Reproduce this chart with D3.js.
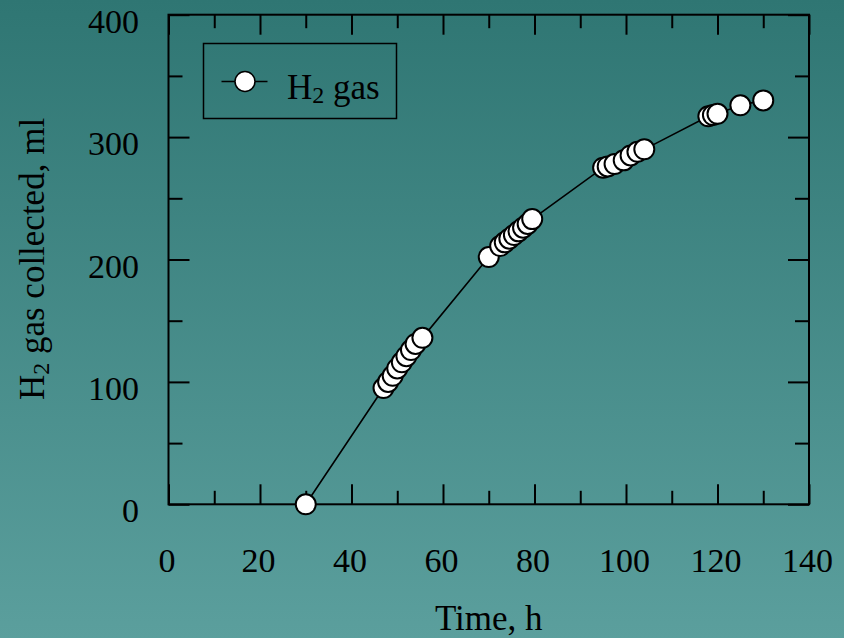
<!DOCTYPE html>
<html>
<head>
<meta charset="utf-8">
<script src="https://cdn.jsdelivr.net/npm/d3@7"></script>
<style>
  html, body { margin: 0; padding: 0; background: #45898a; }
  svg { display: block; }
</style>
</head>
<body>
<div id="chart"></div>
<script>
// data
var timeH = [30, 47, 48, 49, 50, 51, 52, 53, 54, 55.5,
             70, 72.5, 73.5, 74.5, 75.5, 76.5, 77.5, 78.5, 79.5,
             95, 96, 97.5, 99.5, 101, 102.5, 104,
             118, 119, 120, 125, 130];
var gasMl = [0, 95, 100, 105, 111, 116, 121, 126, 131, 136,
             202, 211, 214, 217, 220, 223, 226, 229, 233,
             275, 276, 278, 281, 285, 288, 290,
             317, 318, 319, 326, 330];
var xTicks = [0, 20, 40, 60, 80, 100, 120, 140];
var yTicks = [0, 100, 200, 300, 400];
var xMinor = [10, 30, 50, 70, 90, 110, 130];
var yMinor = [50, 150, 250, 350];

function main()
{
    var svgWidth = 844;
    var svgHeight = 638;
    var left = 168.5, top = 14.7, right = 809, bottom = 504.3;

    var svg = d3.select("#chart").append("svg")
        .attr("width", svgWidth)
        .attr("height", svgHeight);

    // teal background, darker at the top
    var grad = svg.append("defs").append("linearGradient")
        .attr("id", "bg")
        .attr("x1", 0).attr("y1", 0).attr("x2", 0).attr("y2", 1);
    grad.append("stop").attr("offset", "0%").attr("stop-color", "#2f7673");
    grad.append("stop").attr("offset", "100%").attr("stop-color", "#5b9f9d");
    svg.append("rect")
        .attr("width", svgWidth).attr("height", svgHeight)
        .attr("fill", "url(#bg)");

    var xScale = d3.scaleLinear().domain([0, 140]).range([left, right]);
    var yScale = d3.scaleLinear().domain([0, 400]).range([bottom, top]);

    var font = "'Liberation Serif', 'Times New Roman', serif";

    // ticks pointing inwards on all four sides
    function tickAxis(axis, vals, len) {
        return axis.tickValues(vals).tickSizeInner(-len).tickSizeOuter(0).tickFormat("");
    }
    var axes = [
        [d3.axisBottom(xScale), xTicks, 20, "translate(0," + bottom + ")"],
        [d3.axisBottom(xScale), xMinor, 13.5, "translate(0," + bottom + ")"],
        [d3.axisTop(xScale), xTicks, 20, "translate(0," + top + ")"],
        [d3.axisTop(xScale), xMinor, 13.5, "translate(0," + top + ")"],
        [d3.axisLeft(yScale), yTicks, 21, "translate(" + left + ",0)"],
        [d3.axisLeft(yScale), yMinor, 14, "translate(" + left + ",0)"],
        [d3.axisRight(yScale), yTicks, 21, "translate(" + right + ",0)"],
        [d3.axisRight(yScale), yMinor, 14, "translate(" + right + ",0)"]
    ];
    axes.forEach(function(a) {
        var g = svg.append("g")
            .attr("transform", a[3])
            .call(tickAxis(a[0], a[1], a[2]));
        g.select(".domain").remove();
        g.selectAll("line").attr("stroke", "#000").attr("stroke-width", 2);
    });

    // frame
    svg.append("rect")
        .attr("x", left).attr("y", top)
        .attr("width", right - left).attr("height", bottom - top)
        .attr("fill", "none").attr("stroke", "#000").attr("stroke-width", 2);

    // tick labels
    svg.selectAll(".xlab").data(xTicks).enter().append("text")
        .attr("class", "xlab")
        .attr("x", function(d) { return xScale(d) - 1.5; })
        .attr("y", 572)
        .attr("text-anchor", "middle")
        .attr("font-family", font).attr("font-size", "34px")
        .text(function(d) { return d; });

    svg.selectAll(".ylab").data(yTicks).enter().append("text")
        .attr("class", "ylab")
        .attr("x", 139)
        .attr("y", function(d) { return yScale(d) + 18; })
        .attr("text-anchor", "end")
        .attr("font-family", font).attr("font-size", "34px")
        .text(function(d) { return d; });

    // axis titles
    svg.append("text")
        .attr("x", (left + right) / 2)
        .attr("y", 630)
        .attr("text-anchor", "middle")
        .attr("font-family", font).attr("font-size", "35px")
        .text("Time, h");

    var yt = svg.append("text")
        .attr("transform", "translate(44," + 259 + ") rotate(-90)")
        .attr("text-anchor", "middle")
        .attr("font-family", font).attr("font-size", "35px");
    yt.append("tspan").text("H");
    yt.append("tspan").attr("font-size", "24px").attr("dy", 5).text("2");
    yt.append("tspan").attr("dy", -5).text(" gas collected, ml");

    // data line and markers
    var points = timeH.map(function(t, i) { return [t, gasMl[i]]; });
    var line = d3.line()
        .x(function(d) { return xScale(d[0]); })
        .y(function(d) { return yScale(d[1]); });
    svg.append("path")
        .datum(points)
        .attr("d", line)
        .attr("fill", "none").attr("stroke", "#000").attr("stroke-width", 1.6);

    svg.selectAll(".pt").data(points).enter().append("circle")
        .attr("class", "pt")
        .attr("cx", function(d) { return xScale(d[0]); })
        .attr("cy", function(d) { return yScale(d[1]); })
        .attr("r", 10)
        .attr("fill", "#fff").attr("stroke", "#000").attr("stroke-width", 2);

    // legend
    var lg = svg.append("g");
    lg.append("rect")
        .attr("x", 203.5).attr("y", 43.5).attr("width", 193).attr("height", 75)
        .attr("fill", "none").attr("stroke", "#000").attr("stroke-width", 1.5);
    lg.append("line")
        .attr("x1", 221.5).attr("x2", 267.5).attr("y1", 81.5).attr("y2", 81.5)
        .attr("stroke", "#000").attr("stroke-width", 1.6);
    lg.append("circle")
        .attr("cx", 245).attr("cy", 81.5).attr("r", 10)
        .attr("fill", "#fff").attr("stroke", "#000").attr("stroke-width", 1.5);
    var lt = lg.append("text")
        .attr("x", 287).attr("y", 98.5)
        .attr("font-family", font).attr("font-size", "35px");
    lt.append("tspan").text("H");
    lt.append("tspan").attr("font-size", "24px").attr("dy", 4).text("2");
    lt.append("tspan").attr("dy", -4).text(" gas");
}
main();
</script>
</body>
</html>
